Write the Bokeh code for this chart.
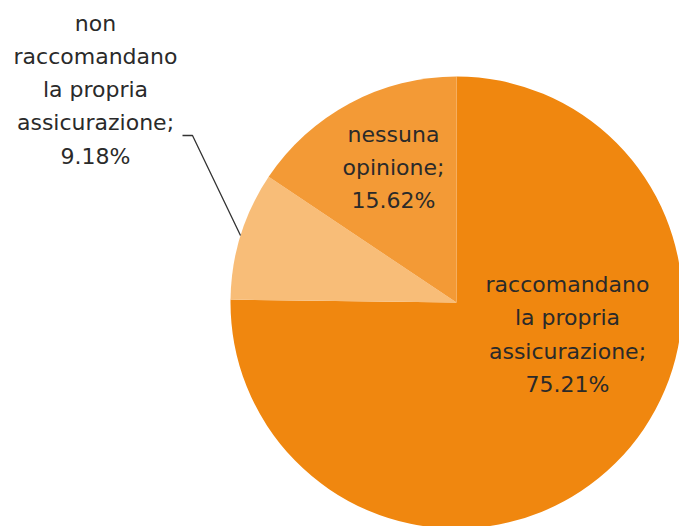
import math
from bokeh.plotting import figure
from bokeh.models import Range1d, ColumnDataSource
from bokeh.core.properties import value
from bokeh.embed import file_html
from bokeh.resources import INLINE

# data
categories = ["raccomandano la propria assicurazione",
              "non raccomandano la propria assicurazione",
              "nessuna opinione"]
shares = [75.21, 9.18, 15.62]
label_texts = ["raccomandano\nla propria\nassicurazione;\n75.21%",
               "non\nraccomandano\nla propria\nassicurazione;\n9.18%",
               "nessuna\nopinione;\n15.62%"]
colors = ["#F0870F", "#F8BD78", "#F39A36"]

W, H = 679, 526
p = figure(width=W, height=H, output_backend="svg", toolbar_location=None,
           x_range=Range1d(0, W), y_range=Range1d(0, H), min_border=0)
p.axis.visible = False
p.grid.visible = False
p.outline_line_color = None
p.background_fill_color = "white"

cx, cy, r = 456, 224, 226
total = sum(shares)
starts, ends = [], []
cum = 0.0
for s in shares:
    starts.append(math.pi / 2 - 2 * math.pi * cum / total)
    cum += s
    ends.append(math.pi / 2 - 2 * math.pi * cum / total)

src = ColumnDataSource(dict(start=starts, end=ends, color=colors, cat=categories))
p.wedge(x=cx, y=cy, radius=r, start_angle="start", end_angle="end",
        direction="clock", fill_color="color", line_color=None, source=src)

lx = [567, 95, 393]
ly = [192, 437, 359]
lsrc = ColumnDataSource(dict(x=lx, y=ly, t=label_texts))
p.text(x="x", y="y", text="t", source=lsrc, text_align="center",
       text_baseline="middle", text_font=value("DejaVu Sans"),
       text_font_size="22px", text_color="#2a2a2a", text_line_height=1.33)

# leader line for the small slice
p.line(x=[182, 192, 240], y=[391, 391, 291], line_color="#333333", line_width=1.3)

open("out.html", "w").write(file_html(p, INLINE))
